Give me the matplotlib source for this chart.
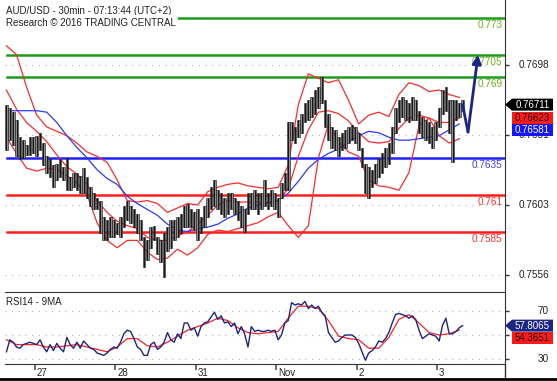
import numpy as np
import matplotlib.pyplot as plt
from matplotlib.lines import Line2D
from matplotlib.patches import Polygon

plt.rcParams['font.family'] = ['Liberation Sans', 'DejaVu Sans']

# AUD/USD hourly bars, prices in pips (0.0001)
bar_high = [7671, 7669, 7666, 7661, 7649, 7647, 7644, 7649, 7649, 7650,
            7652, 7645, 7636, 7634, 7630, 7631, 7634, 7629, 7635, 7622,
            7625, 7625, 7623, 7628, 7622, 7615, 7611, 7608, 7606, 7595,
            7593, 7595, 7593, 7591, 7595, 7602, 7606, 7602, 7600, 7597,
            7593, 7581, 7579, 7588, 7589, 7581, 7579, 7584, 7588, 7593,
            7593, 7595, 7597, 7602, 7604, 7600, 7598, 7600, 7595, 7602,
            7608, 7615, 7620, 7613, 7611, 7608, 7611, 7611, 7608, 7606,
            7602, 7600, 7611, 7611, 7613, 7611, 7611, 7620, 7611, 7613,
            7611, 7608, 7618, 7625, 7659, 7659, 7656, 7661, 7665, 7672,
            7674, 7676, 7681, 7683, 7690, 7674, 7665, 7656, 7654, 7649,
            7652, 7654, 7656, 7657, 7656, 7652, 7642, 7631, 7629, 7627,
            7631, 7634, 7638, 7642, 7645, 7656, 7669, 7674, 7676, 7674,
            7672, 7676, 7674, 7667, 7663, 7661, 7659, 7656, 7659, 7669,
            7681, 7683, 7674, 7674, 7674, 7672, 7674]
bar_low = [7640, 7647, 7644, 7636, 7634, 7635, 7637, 7637, 7638, 7636,
           7640, 7630, 7625, 7622, 7615, 7620, 7622, 7620, 7613, 7613,
           7615, 7613, 7611, 7611, 7608, 7602, 7600, 7600, 7584, 7579,
           7579, 7581, 7581, 7583, 7581, 7588, 7593, 7591, 7588, 7584,
           7579, 7561, 7566, 7574, 7579, 7570, 7564, 7554, 7572, 7574,
           7579, 7581, 7584, 7588, 7588, 7588, 7586, 7579, 7584, 7588,
           7595, 7600, 7602, 7600, 7597, 7595, 7597, 7600, 7597, 7593,
           7588, 7585, 7597, 7600, 7600, 7597, 7600, 7602, 7600, 7602,
           7600, 7595, 7608, 7613, 7613, 7647, 7645, 7649, 7652, 7659,
           7661, 7663, 7665, 7669, 7672, 7656, 7647, 7642, 7640, 7636,
           7640, 7642, 7645, 7647, 7645, 7640, 7629, 7611, 7608, 7615,
           7618, 7622, 7625, 7629, 7631, 7638, 7652, 7659, 7663, 7661,
           7659, 7661, 7661, 7652, 7649, 7647, 7645, 7642, 7647, 7656,
           7665, 7667, 7652, 7632, 7661, 7663, 7667]

# indicators, read every third bar (pips)
bb_upper = [7711, 7705, 7683, 7664, 7656, 7653, 7650, 7645, 7639, 7636,
            7632, 7620, 7606, 7605, 7606, 7604, 7598, 7601, 7604, 7603,
            7612, 7615, 7617, 7618, 7616, 7615, 7614, 7615, 7630, 7671,
            7692, 7689, 7686, 7688, 7674, 7658, 7664, 7666, 7663, 7678,
            7686, 7684, 7680, 7681, 7678, 7676]
bb_mid = [7681, 7668, 7659, 7653, 7646, 7637, 7629, 7624, 7617, 7606,
          7598, 7592, 7589, 7587, 7581, 7579, 7579, 7582, 7585, 7590,
          7596, 7603, 7606, 7605, 7605, 7605, 7604, 7606, 7614, 7636,
          7654, 7666, 7667, 7665, 7660, 7652, 7646, 7645, 7646, 7655,
          7662, 7664, 7662, 7659, 7659, 7662]
bb_lower = [7649, 7638, 7628, 7626, 7628, 7627, 7623, 7618, 7610, 7591,
            7579, 7574, 7579, 7579, 7571, 7566, 7567, 7573, 7569, 7574,
            7583, 7586, 7585, 7587, 7589, 7591, 7595, 7598, 7589, 7581,
            7589, 7635, 7658, 7646, 7639, 7636, 7620, 7616, 7615, 7613,
            7625, 7657, 7662, 7650, 7645, 7648]
ma_line = [7667, 7667, 7667, 7667, 7666, 7659, 7650, 7642, 7635, 7627,
           7621, 7617, 7609, 7604, 7600, 7596, 7590, 7586, 7585, 7587,
           7588, 7590, 7594, 7597, 7601, 7603, 7605, 7606, 7611, 7619,
           7628, 7634, 7638, 7641, 7646, 7650, 7653, 7652, 7649, 7647,
           7647, 7648, 7649, 7650, 7654, 7658]

rsi = [36, 46, 44, 40, 39, 42, 43, 44, 43, 42,
       46, 40, 36, 42, 37, 43, 39, 36, 48, 42,
       39, 44, 39, 45, 42, 39, 38, 35, 34, 33,
       35, 38, 40, 39, 44, 51, 54, 53, 47, 40,
       38, 33, 33, 42, 44, 38, 40, 44, 52, 46,
       44, 51, 47, 60, 60, 54, 56, 49, 57, 60,
       61, 65, 69, 63, 66, 60, 61, 57, 60, 51,
       57, 51, 40, 57, 53, 54, 53, 53, 54, 53,
       54, 46, 50, 60, 62, 77, 75, 76, 75, 78,
       72, 75, 72, 74, 69, 66, 52, 48, 44, 45,
       48, 50, 50, 50, 48, 43, 36, 29, 35, 37,
       40, 45, 44, 47, 52, 60, 67, 68, 67, 66,
       64, 66, 63, 54, 47, 49, 51, 50, 49, 45,
       58, 64, 51, 51, 53, 56, 57.8]
rsi_ma = [46, 42, 42, 42, 40, 40, 41, 42, 40, 38,
          36, 40, 47, 47, 41, 40, 44, 49, 54, 57,
          60, 64, 62, 56, 52, 51, 52, 53, 64, 74,
          74, 72, 62, 49, 47, 46, 39, 39, 48, 63,
          67, 60, 52, 50, 51, 54]

levels = [0.773, 0.7705, 0.769, 0.7635, 0.761, 0.7585]
level_text = ['0.773', '0.7705', '0.769', '0.7635', '0.761', '0.7585']
level_color = ['#1e9a1e', '#1e9a1e', '#1e9a1e', '#2020ff', '#ff1e1e', '#ff1e1e']
level_label_color = ['#6cb41c', '#6cb41c', '#6cb41c', '#3c3cff', '#ff3030', '#ff3030']

price_ticks = [0.7698, 0.76505, 0.7603, 0.75555]
price_labels = ['0.7698', '0.7651', '0.7603', '0.7556']
rsi_ticks = [70, 50, 30]
rsi_labels = ['70', '', '30']  # 50 sits under the value tags
day_hours = [0, 24, 48, 72, 96, 120]
day_labels = ['27', '28', '31', 'Nov', '2', '3']

last_price = [0.76711, 0.76623, 0.76581]
last_rsi = [57.8065, 54.3651]

# projected path (hours, price)
arrow_t = [127.5, 129.1, 132.1]
arrow_p = [0.7671, 0.76525, 0.7705]

W, H = 557, 381
fig = plt.figure(figsize=(W / 100, H / 100), dpi=100)
ax = fig.add_axes([5 / W, 89 / H, 500 / W, 292 / H])
axr = fig.add_axes([5 / W, 17 / H, 500 / W, 72 / H])

t = -8.5 + np.arange(len(bar_high))
t3 = t[::3]
hi = np.array(bar_high) / 1e4
lo = np.array(bar_low) / 1e4

txt = '#222222'
navy = '#1c2585'

for a in (ax, axr):
    a.set_xlim(-8.94, 140.13)
    a.set_xticks([])
    a.set_axisbelow(True)
    a.grid(axis='y', color='#b4b4b4', linestyle=(0, (1, 5)), lw=0.8)
    for s in ['left', 'top', 'bottom']:
        a.spines[s].set_visible(False)
    a.spines['right'].set_color('#333333')
    a.tick_params(axis='y', left=False, right=True, labelleft=False, labelright=False,
                  length=3, width=1, color='#333333', direction='out')

# ---- price panel ----
ax.set_ylim(0.754397, 0.774211)
ax.set_yticks(price_ticks)
for v, lb in zip(price_ticks, price_labels):
    ax.annotate(lb, xy=(1, v), xycoords=('axes fraction', 'data'), xytext=(31.7, 0),
                textcoords='offset points', ha='right', va='center', fontsize=7.2, color=txt)

for lv, lt, lc, tc in zip(levels, level_text, level_color, level_label_color):
    ax.axhline(lv, xmin=0.004, color=lc, lw=1.8, zorder=2)
    ax.annotate(lt, xy=(1, lv), xycoords=('axes fraction', 'data'), xytext=(-1.7, -1.6),
                textcoords='offset points', ha='right', va='top', fontsize=7.2, color=tc)

ax.plot(t3, np.array(bb_upper) / 1e4, color='#ff2b2b', lw=0.9, zorder=3)
ax.plot(t3, np.array(bb_mid) / 1e4, color='#ff2b2b', lw=0.9, zorder=3)
ax.plot(t3, np.array(bb_lower) / 1e4, color='#ff2b2b', lw=0.9, zorder=3)
ax.plot(t3, np.array(ma_line) / 1e4, color='#2b3bff', lw=0.9, zorder=3)

ax.bar(t, hi - lo, bottom=lo, width=0.8, color='#8e8e8e', edgecolor='#111111',
       linewidth=0.4, zorder=4)
ax.vlines(t, lo, hi, color='black', lw=0.6, zorder=4)

ax.plot(arrow_t[:2], arrow_p[:2], color=navy, lw=2, zorder=5, solid_capstyle='round')
ax.annotate('', xy=(arrow_t[2], arrow_p[2]), xytext=(arrow_t[1], arrow_p[1]),
            arrowprops=dict(arrowstyle='-|>', color=navy, lw=2, mutation_scale=13,
                            shrinkA=0, shrinkB=0), zorder=5)

# ---- RSI panel ----
axr.set_ylim(25.83, 85.83)
axr.set_yticks(rsi_ticks)
axr.spines['top'].set_visible(True)
axr.spines['bottom'].set_visible(True)
axr.spines['top'].set_color('#333333')
axr.spines['bottom'].set_color('#333333')
for v, lb in zip(rsi_ticks, rsi_labels):
    if lb:
        axr.annotate(lb, xy=(1, v), xycoords=('axes fraction', 'data'), xytext=(31.7, 0),
                     textcoords='offset points', ha='right', va='center', fontsize=7.2, color=txt)
axr.plot(t3, rsi_ma, color='#ff2020', lw=0.9, zorder=3)
axr.plot(t, rsi, color=navy, lw=1.0, zorder=4)
axr.text(0.003, 0.93, 'RSI14 - 9MA', transform=axr.transAxes, ha='left', va='top',
         fontsize=7, color=txt)

axr.set_xticks(day_hours)
axr.tick_params(axis='x', bottom=True, labelbottom=False, length=4, width=1.2,
                color='#555555', direction='out')
for h, lb in zip(day_hours, day_labels):
    axr.annotate(lb, xy=(h, 0), xycoords=('data', 'axes fraction'), xytext=(1.2, -3.2),
                 textcoords='offset points', ha='left', va='top', fontsize=7, color=txt)


def value_tags(a, values, texts, faces, colors, pointers):
    # stacked labels on the right axis, in pixel coordinates
    h = 12
    prev = None
    for v, s, fc, tc, p in zip(values, texts, faces, colors, pointers):
        y = a.transData.transform((0, v))[1]
        if prev is not None and prev - y < h:
            y = prev - h
        prev = y
        x0, x1 = 512, 553
        pts = [(x0, y - h / 2), (x1, y - h / 2), (x1, y + h / 2), (x0, y + h / 2)]
        if p:
            pts.append((505, y))
        pts = [(px / W, py / H) for px, py in pts]
        fig.add_artist(Polygon(pts, closed=True, transform=fig.transFigure,
                               facecolor=fc, edgecolor='none', zorder=6))
        fig.text((x0 + x1) / 2 / W, y / H, s, ha='center', va='center',
                 fontsize=7, color=tc, zorder=7)


value_tags(ax, last_price, ['0.76711', '0.76623', '0.76581'],
           ['black', '#ff1a1a', '#1414ff'], ['white', '#111111', 'white'], [True, False, False])
value_tags(axr, last_rsi, ['57.8065', '54.3651'],
           [navy, '#ff1a1a'], ['white', '#111111'], [True, False])

# title block
fig.text(6 / W, 1 - 10.5 / H, 'AUD/USD - 30min - 07:13:44 (UTC+2)', ha='left', va='center',
         fontsize=7, color=txt, bbox=dict(facecolor='white', edgecolor='none', pad=1))
fig.text(6 / W, 1 - 22.5 / H, 'Research \u00a9 2016 TRADING CENTRAL', ha='left', va='center',
         fontsize=7, color=txt, bbox=dict(facecolor='white', edgecolor='none', pad=1.5))

# frame pieces below the RSI panel
fig.add_artist(Line2D([505 / W, 505 / W], [3 / H, 17 / H], color='#333333', lw=1))
fig.add_artist(Line2D([0, 1], [2 / H, 2 / H], color='black', lw=2))

fig.savefig('out.png', dpi=100)
